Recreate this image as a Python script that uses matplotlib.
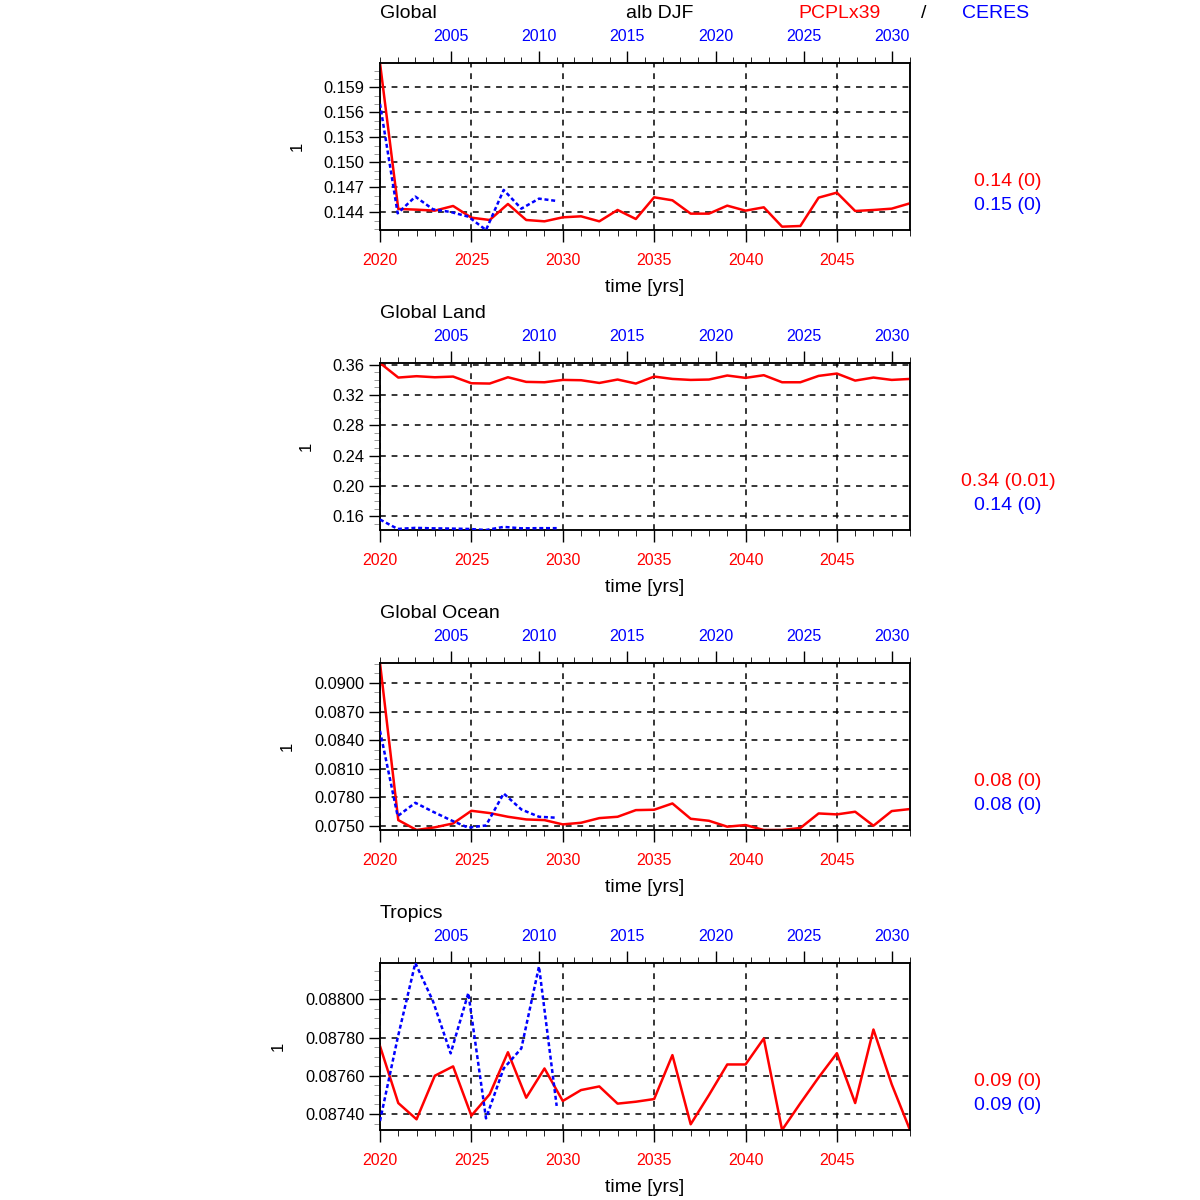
import numpy as np
import matplotlib
matplotlib.use('Agg')
import matplotlib.pyplot as plt
from matplotlib.ticker import MultipleLocator, FormatStrFormatter

plt.rcParams['font.family'] = ['Liberation Sans', 'DejaVu Sans']

# x values: model years (bottom axis) and CERES years (top axis)
model_years = np.arange(2020, 2050)
obs_years = np.arange(2001, 2012)

regions = ['Global', 'Global Land', 'Global Ocean', 'Tropics']

model_global = [0.1619, 0.1444, 0.14432, 0.1442, 0.14476, 0.14336, 0.14308, 0.1450, 0.14308, 0.14292,
                0.1434, 0.14352, 0.14292, 0.14428, 0.1432, 0.1458, 0.14544, 0.14384, 0.14384, 0.1448,
                0.1442, 0.1446, 0.14228, 0.14236, 0.14576, 0.14636, 0.14416, 0.14428, 0.14444, 0.14508]
obs_global = [0.1570, 0.14388, 0.14588, 0.14436, 0.14404, 0.14348, 0.14188, 0.14668, 0.14444, 0.14564, 0.14536]

model_land = [0.362, 0.3428, 0.3446, 0.3432, 0.3441, 0.3353, 0.3349, 0.3432, 0.3371, 0.3366,
              0.3397, 0.3393, 0.3357, 0.3402, 0.3349, 0.3441, 0.3410, 0.3397, 0.3402, 0.3455,
              0.3424, 0.3459, 0.3366, 0.3366, 0.3450, 0.3481, 0.3388, 0.3428, 0.3397, 0.3410]
obs_land = [0.1556, 0.1432, 0.1446, 0.1440, 0.1437, 0.1432, 0.1418, 0.1459, 0.1440, 0.1442, 0.1442]

model_ocean = [0.0921, 0.07559, 0.07455, 0.07483, 0.07524, 0.07657, 0.07633, 0.07594, 0.07566, 0.07559,
               0.07514, 0.07531, 0.0758, 0.07594, 0.07664, 0.07668, 0.07734, 0.07573, 0.07552, 0.0749,
               0.07507, 0.07455, 0.07455, 0.07476, 0.07629, 0.07619, 0.07647, 0.0750, 0.07654, 0.07675]
obs_ocean = [0.08497, 0.07601, 0.07741, 0.07647, 0.07559, 0.07479, 0.07503, 0.07839, 0.07671, 0.07594, 0.07584]

model_tropics = [0.087755, 0.087457, 0.087372, 0.087600, 0.087649, 0.087391, 0.087503, 0.087723, 0.087485, 0.087638,
                 0.087468, 0.087525, 0.087544, 0.087454, 0.087464, 0.087478, 0.087708, 0.087346, 0.087499, 0.087659,
                 0.087659, 0.087795, 0.087316, 0.087456, 0.087591, 0.087718, 0.087457, 0.087842, 0.087555, 0.087316]
obs_tropics = [0.087363, 0.087798, 0.088190, 0.087990, 0.087717, 0.088033, 0.087377, 0.087638, 0.087743, 0.088172, 0.087442]

model_series = [model_global, model_land, model_ocean, model_tropics]
obs_series = [obs_global, obs_land, obs_ocean, obs_tropics]

model_stats = ['0.14 (0)', '0.34 (0.01)', '0.08 (0)', '0.09 (0)']
obs_stats = ['0.15 (0)', '0.14 (0)', '0.08 (0)', '0.09 (0)']

y_major = [0.003, 0.04, 0.003, 0.0002]
y_minor = [0.001, 0.01, 0.001, 0.00005]
y_fmt = ['%.3f', '%.2f', '%.4f', '%.5f']

RED = '#ff0000'
BLUE = '#0000ff'
W = 1200.0


def px(v):
    return v / W


fig = plt.figure(figsize=(12, 12), dpi=100)

panel_tops = [63, 363, 663, 963]
for k in range(4):
    top = panel_tops[k]
    ax = fig.add_axes([px(380), 1 - px(top + 167), px(530), px(167)])
    red = np.array(model_series[k])
    blue = np.array(obs_series[k])
    lo = min(red.min(), blue.min())
    hi = max(red.max(), blue.max())

    ax.plot(model_years, red, color=RED, lw=1.8, zorder=4)
    ax.set_xlim(2020, 2049)
    ax.set_ylim(lo, hi)

    ax.xaxis.set_major_locator(MultipleLocator(5))
    ax.xaxis.set_minor_locator(MultipleLocator(1))
    ax.yaxis.set_major_locator(MultipleLocator(y_major[k]))
    ax.yaxis.set_minor_locator(MultipleLocator(y_minor[k]))
    ax.yaxis.set_major_formatter(FormatStrFormatter(y_fmt[k]))
    ax.tick_params(axis='x', which='major', direction='out', length=8.5, width=1.0,
                   labelsize=11.5, labelcolor=RED, pad=8, top=False)
    ax.tick_params(axis='x', which='minor', direction='out', length=4, width=0.6, top=False)
    ax.tick_params(axis='y', which='major', direction='out', length=8, width=1.0,
                   labelsize=11.8, pad=3, right=False)
    ax.tick_params(axis='y', which='minor', direction='out', length=4, width=0.6,
                   color='#888888', right=False)
    ax.grid(True, which='major', color='black', lw=1.1, linestyle=(0, (3.8, 3.8)))
    for s in ax.spines.values():
        s.set_linewidth(1.1)

    ax.set_xlabel('time [yrs]', fontsize=14, labelpad=8)
    ax.set_ylabel('1', fontsize=12, labelpad=14)

    ax2 = ax.twiny()
    ax2.plot(obs_years, blue, color=BLUE, lw=1.8, linestyle=(0, (1.6, 1.1)), zorder=3)
    ax2.set_xlim(2001, 2031)
    ax2.xaxis.set_major_locator(MultipleLocator(5))
    ax2.xaxis.set_minor_locator(MultipleLocator(1))
    ax2.tick_params(axis='x', which='major', direction='out', length=8.5, width=1.0,
                    labelsize=11.5, labelcolor=BLUE, pad=5.5)
    ax2.tick_params(axis='x', which='minor', direction='out', length=4, width=0.6)
    for s in ax2.spines.values():
        s.set_linewidth(1.1)

    ax.annotate(regions[k], xy=(0, 1), xycoords='axes fraction',
                xytext=(0, 36), textcoords='offset points',
                ha='left', va='center', fontsize=14)

    fig.text(px(1008), 1 - px(top + 118), model_stats[k], color=RED,
             ha='center', va='center', fontsize=14)
    fig.text(px(1008), 1 - px(top + 142), obs_stats[k], color=BLUE,
             ha='center', va='center', fontsize=14)

fig.text(px(660), 1 - px(14), 'alb DJF', ha='center', va='center', fontsize=14)
fig.text(px(840), 1 - px(14), 'PCPLx39', color=RED, ha='center', va='center', fontsize=14)
fig.text(px(924), 1 - px(14), '/', ha='center', va='center', fontsize=14)
fig.text(px(996), 1 - px(14), 'CERES', color=BLUE, ha='center', va='center', fontsize=14)

fig.savefig('out.png', dpi=100)
